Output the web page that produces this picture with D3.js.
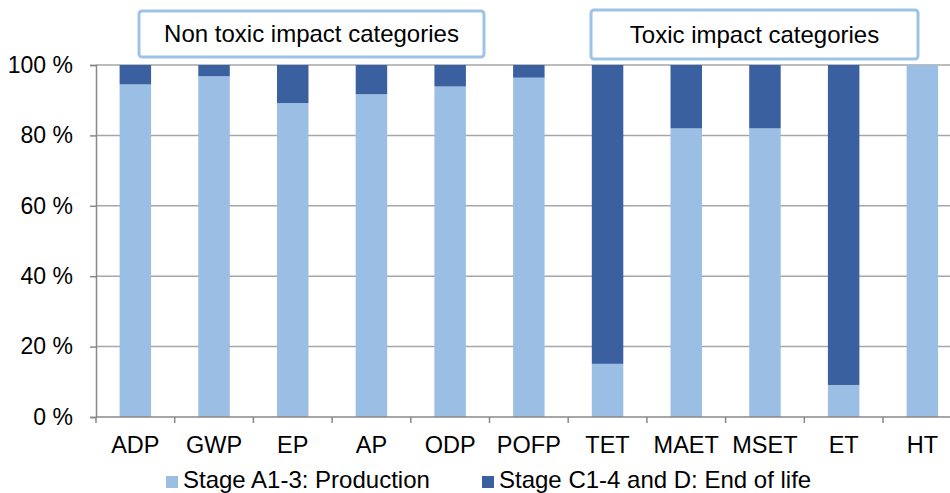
<!DOCTYPE html>
<html><head><meta charset="utf-8">
<script src="https://cdn.jsdelivr.net/npm/d3@7"></script>
<style>body{margin:0;background:#fff}svg{display:block}text{font-family:"Liberation Sans",Arial,sans-serif;fill:#000}</style>
</head><body>
<script>
const categories = ["ADP","GWP","EP","AP","ODP","POFP","TET","MAET","MSET","ET","HT"];
const production = [94.5,96.8,89.2,91.7,93.9,96.4,15.1,82.0,82.0,9.1,100];
const endOfLife = production.map(v => 100 - v);
const yTicks = [0,20,40,60,80,100];
const seriesNames = ["Stage A1-3: Production","Stage C1-4 and D: End of life"];
const seriesColors = ["#9BBEE4","#3A60A0"];
const groupLabels = ["Non toxic impact categories","Toxic impact categories"];

const W = 950, H = 493;
const m = {left:96, right:961.7, top:65, bottom:417};
const svg = d3.select("body").append("svg").attr("width",W).attr("height",H);

const x = d3.scaleBand().domain(categories).range([m.left,m.right]).paddingInner(0.6).paddingOuter(0.3);
const y = d3.scaleLinear().domain([0,100]).range([m.bottom,m.top]);

// gridlines
svg.append("g").selectAll("line").data(yTicks.filter(d=>d>0)).join("line")
  .attr("x1",m.left).attr("x2",m.right).attr("y1",d=>y(d)).attr("y2",d=>y(d))
  .attr("stroke","#A6A6A6").attr("stroke-width",1.5);

const data = categories.map((c,i)=>({c, p:production[i], e:endOfLife[i]}));
const stack = d3.stack().keys(["p","e"])(data);
svg.append("g").selectAll("g").data(stack).join("g")
  .attr("fill",(d,i)=>seriesColors[i])
  .selectAll("rect").data(d=>d).join("rect")
  .attr("x",d=>x(d.data.c)).attr("width",x.bandwidth())
  .attr("y",d=>y(d[1])).attr("height",d=>y(d[0])-y(d[1]));

// y axis
const ya = svg.append("g").attr("transform",`translate(${m.left},0)`)
  .call(d3.axisLeft(y).tickValues(yTicks).tickSize(6).tickPadding(17).tickFormat(d=>d+" %"));
ya.select(".domain").attr("stroke","#888").attr("stroke-width",1.5);
ya.selectAll(".tick line").attr("stroke","#888").attr("stroke-width",1.5);
ya.selectAll("text").attr("font-size",23).attr("fill","#000").attr("font-family","'Liberation Sans',Arial,sans-serif");

// x axis
const step = x.step();
const xa = svg.append("g").attr("transform",`translate(0,${m.bottom})`);
xa.append("line").attr("x1",m.left).attr("x2",m.right).attr("stroke","#888").attr("stroke-width",1.5);
xa.selectAll("line.tk").data(d3.range(categories.length+1)).join("line").attr("class","tk")
  .attr("x1",i=>m.left+i*step).attr("x2",i=>m.left+i*step).attr("y1",0).attr("y2",6)
  .attr("stroke","#888").attr("stroke-width",1.5);
xa.selectAll("text").data(categories).join("text")
  .attr("x",d=>x(d)+x.bandwidth()/2).attr("y",36).attr("text-anchor","middle")
  .attr("font-size",23.5).text(d=>d);

// group label boxes
const boxes = [{x:139,y:11,w:345,h:46,t:groupLabels[0]},{x:591,y:10,w:327,h:49,t:groupLabels[1]}];
const bg = svg.append("g").selectAll("g").data(boxes).join("g");
bg.append("rect").attr("x",d=>d.x).attr("y",d=>d.y).attr("width",d=>d.w).attr("height",d=>d.h)
  .attr("rx",3).attr("fill","#fff").attr("stroke","#9DC3E6").attr("stroke-width",3);
bg.append("text").attr("x",d=>d.x+d.w/2).attr("y",d=>d.y+d.h/2+8).attr("text-anchor","middle")
  .attr("font-size",24).text(d=>d.t);

// legend
const leg = [{x:166,t:seriesNames[0],c:seriesColors[0]},{x:482,t:seriesNames[1],c:seriesColors[1]}];
const lg = svg.append("g").selectAll("g").data(leg).join("g");
lg.append("rect").attr("x",d=>d.x).attr("y",476).attr("width",12).attr("height",12).attr("fill",d=>d.c);
lg.append("text").attr("x",d=>d.x+17).attr("y",488).attr("font-size",24).text(d=>d.t);
</script>
</body></html>
